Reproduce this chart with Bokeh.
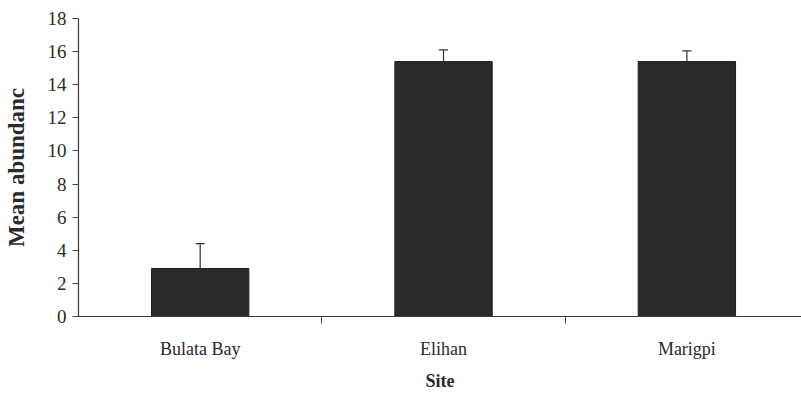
from bokeh.plotting import figure
from bokeh.models import Range1d, FixedTicker, Title
from bokeh.embed import file_html
from bokeh.resources import INLINE

# Mean abundance per site with standard error (upper bar only)
sites = ["Bulata Bay", "Elihan", "Marigpi"]
means = [2.9, 15.4, 15.4]
errors = [1.5, 0.7, 0.65]
y_ticks = [0, 2, 4, 6, 8, 10, 12, 14, 16, 18]

centres = [i + 0.5 for i in range(len(sites))]
boundaries = [float(i) for i in range(1, len(sites))]
tops = [m + e for m, e in zip(means, errors)]

x_end = 2.971
p = figure(width=801, height=398, output_backend="svg", toolbar_location=None,
           x_range=Range1d(0, x_end), y_range=Range1d(0, 18),
           min_border_left=76, min_border_right=0, min_border_top=18,
           min_border_bottom=82)

p.background_fill_color = "white"
p.border_fill_color = "white"
p.outline_line_color = None
p.grid.visible = False

bar_colour = "#2b2a2b"
p.vbar(x=centres, top=means, width=0.40, bottom=0,
       fill_color=bar_colour, line_color="#1e1e1e", line_width=1)

# Standard error: stem above each bar with a short cap
p.segment(x0=centres, y0=means, x1=centres, y1=tops, line_color="#333333", line_width=1.2)
p.scatter(x=centres, y=tops, marker="dash", size=9, line_color="#333333", line_width=1.2)

serif = "Liberation Serif"
ink = "#2a2a2a"

# x axis: labels at bar centres, tick marks between sites
xa = p.xaxis[0]
xa.ticker = FixedTicker(ticks=centres, minor_ticks=boundaries)
xa.major_label_overrides = {c: s for c, s in zip(centres, sites)}
xa.major_tick_out = 0
xa.major_tick_in = 0
xa.minor_tick_out = 7
xa.minor_tick_in = 0
xa.minor_tick_line_color = "#444444"
xa.axis_line_color = "#3a3a3a"
xa.axis_line_width = 1.2
xa.major_label_text_font = serif
xa.major_label_text_font_size = "18px"
xa.major_label_text_color = ink
xa.major_label_text_line_height = 1.0
xa.major_label_standoff = 15

# axis title under the site names
p.add_layout(Title(text="Site", align="center", text_font=serif,
                   text_font_style="bold", text_font_size="18px",
                   text_color=ink, standoff=15), "below")

# y axis
ya = p.yaxis[0]
ya.ticker = FixedTicker(ticks=y_ticks, minor_ticks=[])
ya.major_tick_out = 6
ya.major_tick_in = 0
ya.major_tick_line_color = "#444444"
ya.axis_line_color = "#3a3a3a"
ya.axis_line_width = 1.2
ya.major_label_text_font = serif
ya.major_label_text_font_size = "19px"
ya.major_label_text_color = ink
ya.major_label_standoff = 6
ya.axis_label = "Mean abundanc"
ya.axis_label_text_font = serif
ya.axis_label_text_font_style = "bold"
ya.axis_label_text_font_size = "23px"
ya.axis_label_text_color = ink
ya.axis_label_standoff = 16

open("out.html", "w").write(file_html(p, INLINE))
